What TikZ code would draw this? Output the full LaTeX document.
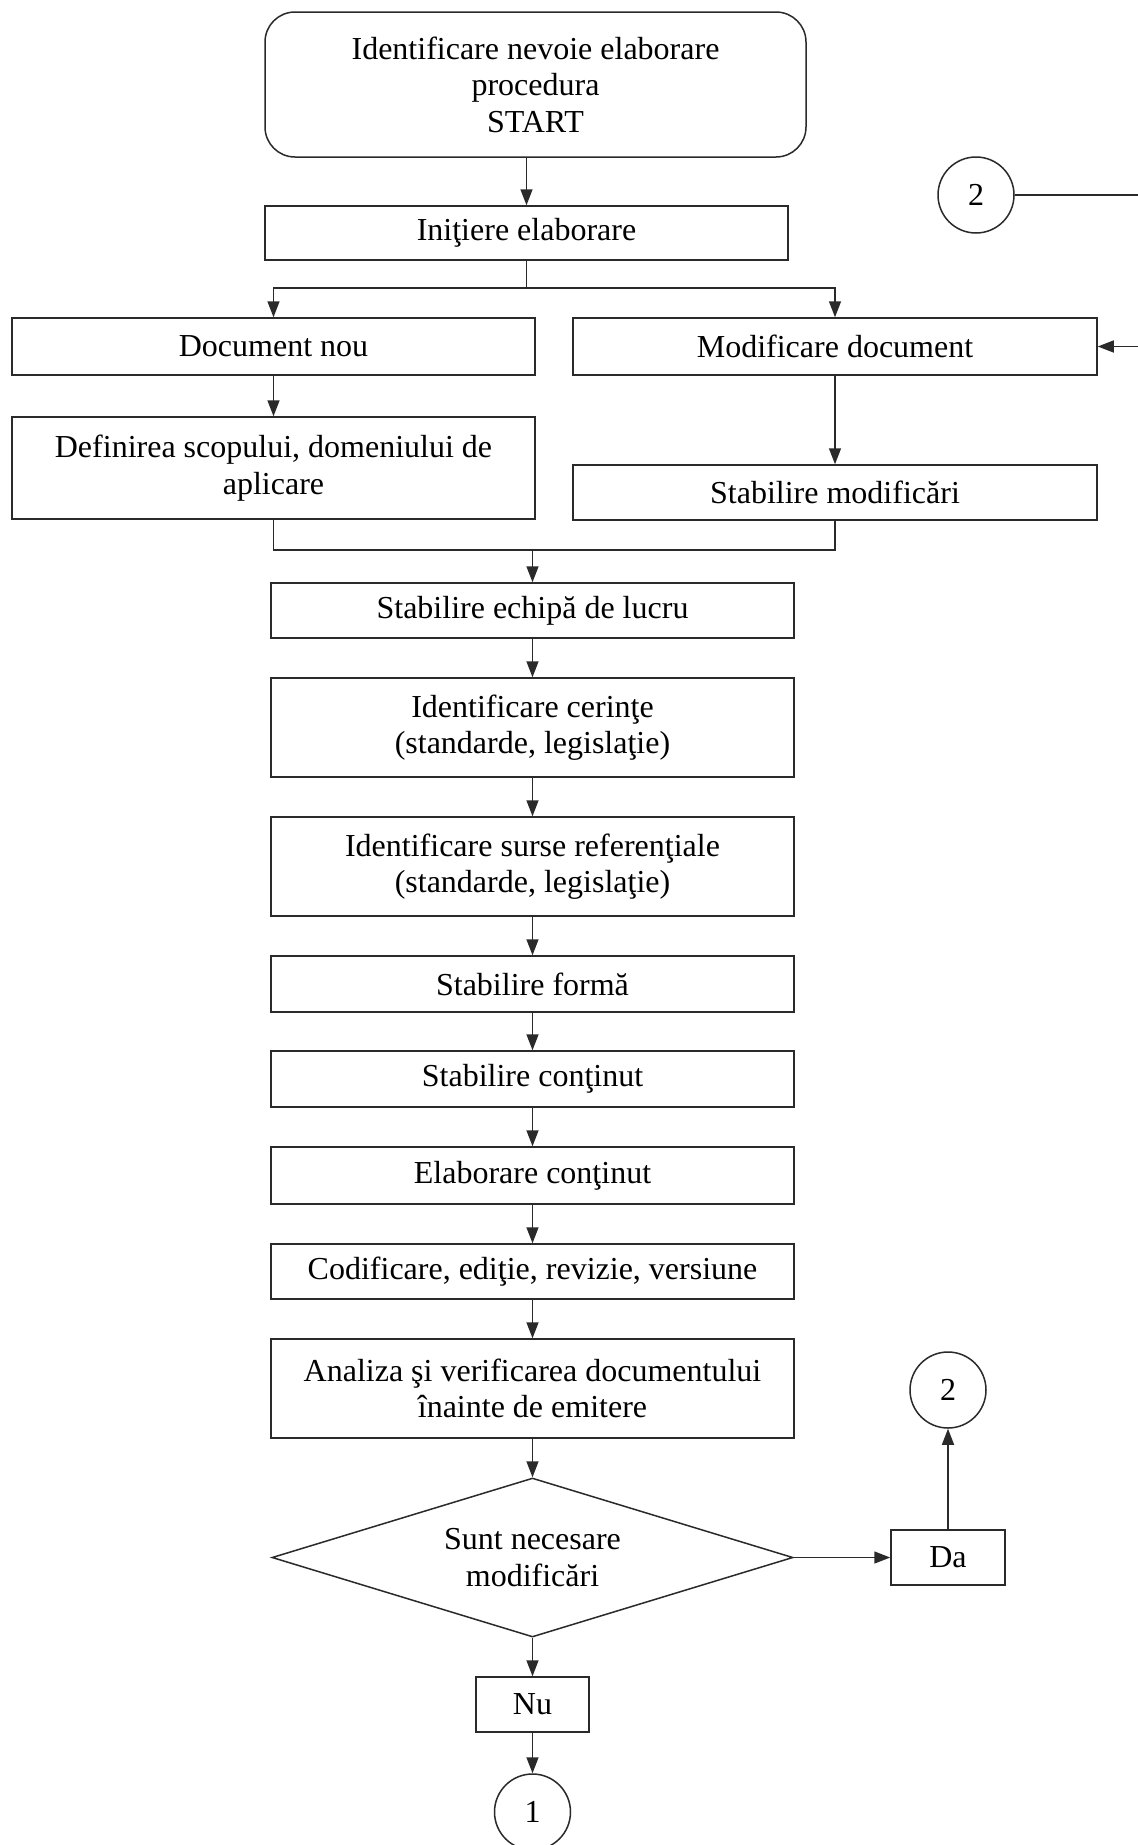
\documentclass[tikz,border=0pt]{standalone}
\usepackage{fontspec}
\setmainfont{Liberation Serif}
\usetikzlibrary{arrows.meta,shapes.geometric}
\definecolor{linec}{HTML}{2A2A2A}
\begin{document}
\begin{tikzpicture}[x=1pt,y=-1pt,
  every node/.style={font=\fontsize{32pt}{36.5pt}\selectfont, text=black},
  box/.style={draw=linec, line width=1.5pt, rectangle, align=center, inner sep=0pt, minimum width=523},
  conn/.style={draw=linec, line width=1.5pt},
  arr/.style={conn, -{Triangle[length=16pt,width=12pt]}},
  ring/.style={draw=linec, line width=1.5pt, circle, minimum size=76, inner sep=0pt}]
\useasboundingbox (0,0) rectangle (1138,1845);
\fill[white] (0,0) rectangle (1138,1845);

\node[box, rounded corners=30pt, minimum width=541, minimum height=145] (start) at (535.5,84.5)
  {Identificare nevoie elaborare\\procedura\\START};
\node[box, minimum height=54] (init) at (526.5,233) {Iniţiere elaborare};
\node[box, minimum height=57] (docnou) at (273.5,346.5) {Document nou};
\node[box, minimum width=524, minimum height=57] (modif) at (835,346.5) {Modificare document};
\node[box, minimum height=102] (defin) at (273.5,468) {Definirea scopului, domeniului de\\aplicare};
\node[box, minimum width=524, minimum height=55] (stmod) at (835,492.5) {Stabilire modificări};

\node[box, minimum height=55] (echipa) at (532.5,610.5) {Stabilire echipă de lucru};
\node[box, minimum height=99] (cerinte) at (532.5,727.5) {Identificare cerinţe\\(standarde, legislaţie)};
\node[box, minimum height=99] (surse) at (532.5,866.5) {Identificare surse referenţiale\\(standarde, legislaţie)};
\node[box, minimum height=56] (forma) at (532.5,984) {Stabilire formă};
\node[box, minimum height=56] (contin) at (532.5,1079) {Stabilire conţinut};
\node[box, minimum height=57] (elab) at (532.5,1175.5) {Elaborare conţinut};
\node[box, minimum height=55] (codif) at (532.5,1271.5) {Codificare, ediţie, revizie, versiune};
\node[box, minimum height=99] (analiza) at (532.5,1388.5) {Analiza şi verificarea documentului\\înainte de emitere};

\node[draw=linec, line width=1.5pt, diamond, aspect=3.28, minimum width=521, minimum height=159, inner sep=0pt, align=center]
  (dec) at (532.5,1557.5) {Sunt necesare\\modificări};
\node[box, minimum width=114, minimum height=55] (da) at (948,1557.5) {Da};
\node[box, minimum width=113, minimum height=55] (nu) at (532.5,1704.5) {Nu};
\node[ring] (c2b) at (948,1390) {2};
\node[ring] (c1) at (532.5,1812) {1};
\node[ring] (c2t) at (976,195) {2};

% top part
\draw[arr] (init.north |- start.south) -- (init.north);
\coordinate (s1) at (526.5,288);
\draw[conn] (init.south) -- (s1);
\draw[arr] (s1) -| (docnou.north);
\draw[arr] (s1) -| (modif.north);
\draw[arr] (docnou) -- (defin);
\draw[arr] (modif) -- (stmod);
\coordinate (m) at (532.5,550);
\draw[conn] (defin.south) |- (m);
\draw[conn] (stmod.south) |- (m);
\draw[arr] (m) -- (echipa.north);

% loop back from connector 2
\coordinate (offR) at (1160,195);
\draw[arr] (c2t.east) -- (offR) |- (modif.east);

% main chain
\draw[arr] (echipa) -- (cerinte);
\draw[arr] (cerinte) -- (surse);
\draw[arr] (surse) -- (forma);
\draw[arr] (forma) -- (contin);
\draw[arr] (contin) -- (elab);
\draw[arr] (elab) -- (codif);
\draw[arr] (codif) -- (analiza);
\draw[arr] (analiza) -- (dec.north);
\draw[arr] (dec.east) -- (da.west);
\draw[arr] (da.north) -- (c2b.south);
\draw[arr] (dec.south) -- (nu.north);
\draw[arr] (nu.south) -- (c1.north);
\end{tikzpicture}
\end{document}
